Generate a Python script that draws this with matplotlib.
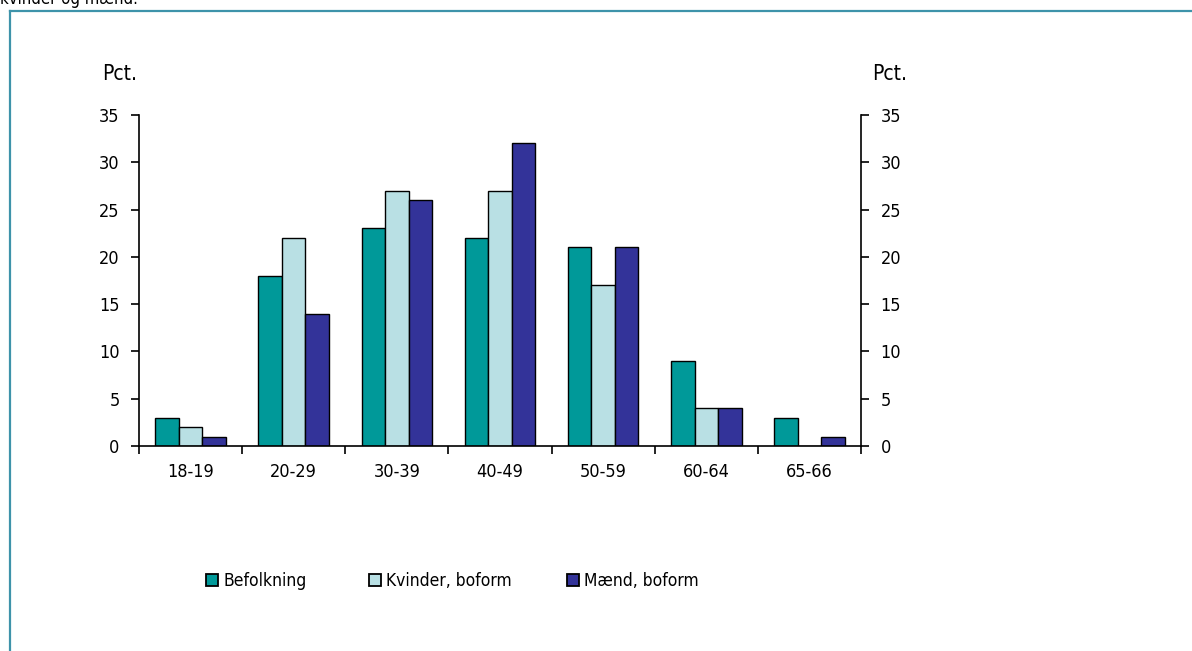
import matplotlib
matplotlib.use("Agg")
import matplotlib.pyplot as plt
import numpy as np
from matplotlib.lines import Line2D
from matplotlib.patches import Patch

categories = ["18-19", "20-29", "30-39", "40-49", "50-59", "60-64", "65-66"]
befolkning = [3, 18, 23, 22, 21, 9, 3]
kvinder = [2, 22, 27, 27, 17, 4, 0]
maend = [1, 14, 26, 32, 21, 4, 1]
series_names = ["Befolkning", "Kvinder, boform", "Mænd, boform"]
colors = ["#009999", "#B9E0E4", "#333399"]
yticks = [0, 5, 10, 15, 20, 25, 30, 35]

plt.rcParams['font.family'] = ['DejaVu Sans']
plt.rcParams['font.stretch'] = 'condensed'

fig = plt.figure(figsize=(11.92, 6.51), dpi=100)
W, H = 1192, 651
ax = fig.add_axes([139 / W, 1 - 446 / H, (861 - 139) / W, (446 - 115) / H])

x = np.arange(len(categories))
bw = 0.228
for i, (vals, c) in enumerate(zip([befolkning, kvinder, maend], colors)):
    ax.bar(x + (i - 1) * bw, vals, width=bw, color=c, edgecolor="black", linewidth=1.0)

fs = 13
ax.set_xlim(-0.5, len(categories) - 0.5)
ax.set_ylim(0, 35)
ax.set_yticks(yticks)
ax.set_yticklabels([str(v) for v in yticks], fontsize=fs)
ax.tick_params(axis='y', direction='out', length=6, width=1.2, pad=8,
               right=True, labelright=True, left=True, labelleft=True)
ax.set_xticks(x)
ax.set_xticklabels(categories, fontsize=fs)
ax.tick_params(axis='x', which='major', length=0, pad=12)
ax.set_xticks(np.arange(len(categories) + 1) - 0.5, minor=True)
ax.tick_params(axis='x', which='minor', direction='out', length=6, width=1.2)
ax.spines['top'].set_visible(False)
for s in ['left', 'right', 'bottom']:
    ax.spines[s].set_linewidth(1.2)

fig.text(102 / W, 1 - 74 / H, "Pct.", fontsize=15, va='center', ha='left')
fig.text(872 / W, 1 - 74 / H, "Pct.", fontsize=15, va='center', ha='left')

# legend: one entry per series, placed at its own position
leg_x = [206, 369, 567]
for name, c, lx in zip(series_names, colors, leg_x):
    h = Patch(facecolor=c, edgecolor="black", linewidth=1.3)
    fig.legend([h], [name], loc='center left', bbox_to_anchor=(lx / W, 1 - 581 / H),
               frameon=False, fontsize=12.5, handlelength=0.7, handleheight=0.7,
               handletextpad=0.3, borderpad=0, borderaxespad=0)

# frame
fc = "#3E93AA"
fig.add_artist(Line2D([10 / W, 10 / W], [0, 1 - 11 / H], color=fc, lw=1.6, transform=fig.transFigure))
fig.add_artist(Line2D([10 / W, 1], [1 - 11 / H, 1 - 11 / H], color=fc, lw=1.6, transform=fig.transFigure))

fig.text(0.0, 1 - 4 / H, "kvinder og mænd.", fontsize=12, va='baseline', ha='left')

fig.savefig("out.png", dpi=100)
